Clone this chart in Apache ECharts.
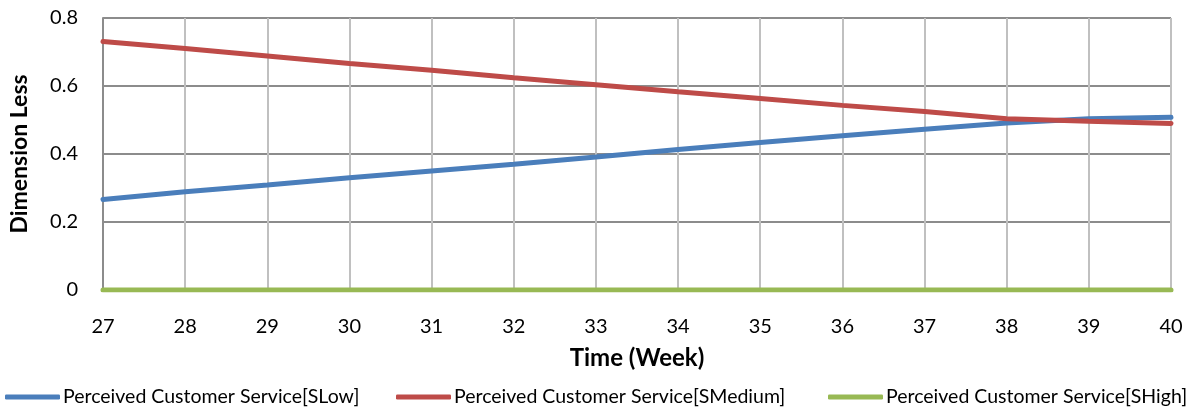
<!DOCTYPE html>
<html>
<head>
<meta charset="utf-8">
<script src="https://cdn.jsdelivr.net/npm/echarts@6/dist/echarts.min.js"></script>
<style>
  html, body { margin: 0; padding: 0; background: #fff; }
  #chart { width: 1193px; height: 408px; }
</style>
</head>
<body>
<div id="chart"></div>
<script>
// Weeks on the horizontal axis
const weeks = ['27', '28', '29', '30', '31', '32', '33', '34', '35', '36', '37', '38', '39', '40'];

// Perceived customer service per scenario
const sLow = [0.266, 0.289, 0.309, 0.330, 0.350, 0.370, 0.391, 0.413, 0.434, 0.454, 0.473, 0.491, 0.504, 0.508];
const sMedium = [0.731, 0.710, 0.688, 0.666, 0.646, 0.624, 0.604, 0.583, 0.563, 0.543, 0.525, 0.504, 0.496, 0.490];
const sHigh = [0, 0, 0, 0, 0, 0, 0, 0, 0, 0, 0, 0, 0, 0];

const seriesNames = [
  'Perceived Customer Service[SLow]',
  'Perceived Customer Service[SMedium]',
  'Perceived Customer Service[SHigh]'
];
const colors = ['#4a7ebb', '#be4b48', '#98b954'];
const FONT = 'Lato, "Open Sans", sans-serif';

const chart = echarts.init(document.getElementById('chart'), null, { renderer: 'canvas' });

function legendAt(name, left) {
  return {
    data: [name],
    left: left,
    top: 387,
    icon: 'roundRect',
    itemWidth: 55,
    itemHeight: 5,
    padding: 0,
    itemGap: 4,
    textStyle: { fontFamily: FONT, fontSize: 19.5, color: '#000', padding: [0, 0, 0, -2] }
  };
}

chart.setOption({
  animation: false,
  color: colors,
  grid: { left: 103, right: 22, top: 18, bottom: 118, containLabel: false },
  legend: [
    legendAt(seriesNames[0], 5),
    legendAt(seriesNames[1], 396),
    legendAt(seriesNames[2], 828)
  ],
  xAxis: {
    type: 'category',
    data: weeks,
    boundaryGap: false,
    name: 'Time (Week)',
    nameLocation: 'middle',
    nameGap: 56,
    nameTextStyle: { fontFamily: FONT, fontSize: 24, fontWeight: 'bold', color: '#000' },
    axisLine: { show: true, lineStyle: { color: '#c0c0c0', width: 2 } },
    axisTick: { show: false },
    axisLabel: { fontFamily: FONT, fontSize: 20, color: '#000', margin: 27 },
    splitLine: { show: true, lineStyle: { color: '#c0c0c0', width: 2 } }
  },
  yAxis: {
    type: 'value',
    min: 0,
    max: 0.8,
    interval: 0.2,
    name: 'Dimension Less',
    nameLocation: 'middle',
    nameGap: 72,
    nameTextStyle: { fontFamily: FONT, fontSize: 23, fontWeight: 'bold', color: '#000' },
    axisLine: { show: true, lineStyle: { color: '#8c8c8c', width: 2 } },
    axisTick: { show: false },
    axisLabel: {
      fontFamily: FONT, fontSize: 20, color: '#000', margin: 25,
      formatter: v => (v === 0 ? '0' : v.toFixed(1))
    },
    splitLine: { show: true, lineStyle: { color: '#8c8c8c', width: 2 } }
  },
  series: [
    { name: seriesNames[0], type: 'line', data: sLow, symbol: 'none', lineStyle: { width: 5, cap: 'round' }, z: 3 },
    { name: seriesNames[1], type: 'line', data: sMedium, symbol: 'none', lineStyle: { width: 5, cap: 'round' }, z: 4 },
    { name: seriesNames[2], type: 'line', data: sHigh, symbol: 'none', lineStyle: { width: 5, cap: 'round' }, z: 5 }
  ]
});
</script>
</body>
</html>
